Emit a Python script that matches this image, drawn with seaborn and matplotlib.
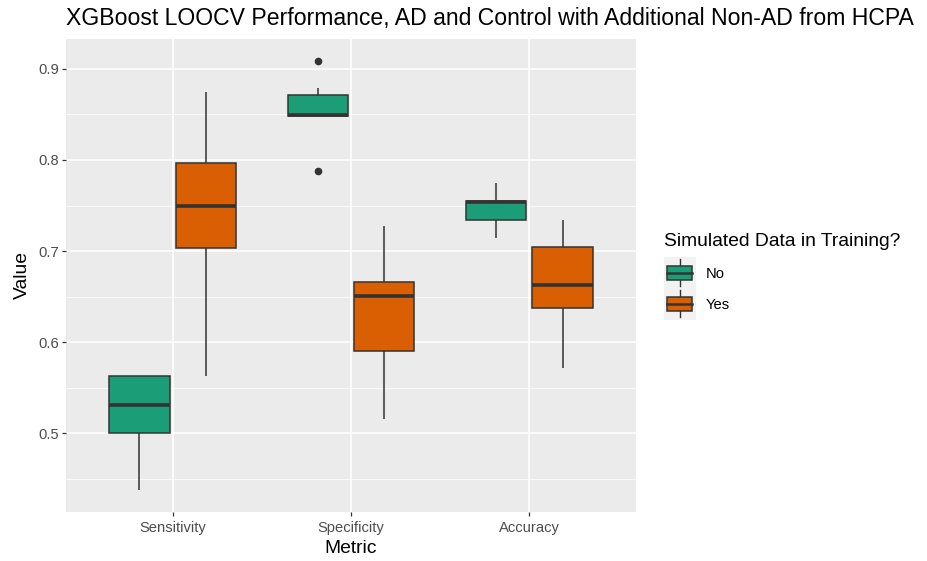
import numpy as np
import pandas as pd
import matplotlib
matplotlib.use("Agg")
import matplotlib.pyplot as plt
import seaborn as sns
from matplotlib.patches import Rectangle, Patch
from matplotlib.lines import Line2D
from matplotlib.legend_handler import HandlerBase

# ---- data ----
metrics = ["Sensitivity", "Specificity", "Accuracy"]
groups = ["No", "Yes"]
sensitivity_no = [0.4375, 0.5, 0.53125, 0.5625, 0.5625]
sensitivity_yes = [0.563, 0.703, 0.75, 0.797, 0.875]
specificity_no = [0.788, 0.848, 0.848, 0.8482, 0.849, 0.86, 0.871, 0.879, 0.909]
specificity_yes = [0.515, 0.590, 0.651, 0.666, 0.727]
accuracy_no = [0.714, 0.734, 0.754, 0.755, 0.775]
accuracy_yes = [0.571, 0.637, 0.663, 0.704, 0.734]
colors = ["#1B9E77", "#D95F02"]
yticks = [0.5, 0.6, 0.7, 0.8, 0.9]
yminor = [0.45, 0.55, 0.65, 0.75, 0.85]

series = {
    ("Sensitivity", "No"): sensitivity_no,
    ("Sensitivity", "Yes"): sensitivity_yes,
    ("Specificity", "No"): specificity_no,
    ("Specificity", "Yes"): specificity_yes,
    ("Accuracy", "No"): accuracy_no,
    ("Accuracy", "Yes"): accuracy_yes,
}
rows = []
for (m, g), vals in series.items():
    for v in vals:
        rows.append({"Metric": m, "Sim": g, "Value": v})
df = pd.DataFrame(rows)

plt.rcParams["font.family"] = ["Liberation Sans", "DejaVu Sans"]

fig = plt.figure(figsize=(9.27, 5.61), dpi=100)
ax = fig.add_axes([66 / 927, 1 - 511.5 / 561, (636 - 66) / 927, (511.5 - 39.3) / 561])
ax.set_facecolor("#EBEBEB")

# grid
for y in yminor:
    ax.axhline(y, color="white", lw=0.55, zorder=0)
for y in yticks:
    ax.axhline(y, color="white", lw=1.1, zorder=0)
for x in range(len(metrics)):
    ax.axvline(x, color="white", lw=1.1, zorder=0)

sns.boxplot(
    data=df, x="Metric", y="Value", hue="Sim",
    order=metrics, hue_order=groups, palette=colors, saturation=1,
    width=0.75, gap=0.1, linecolor="#333333", linewidth=1.1,
    fliersize=4.5, showcaps=False, legend=False, ax=ax,
    medianprops=dict(linewidth=2.6, color="#333333"),
    flierprops=dict(marker="o", markerfacecolor="#333333", markeredgecolor="#333333"),
)

ax.set_xlim(-0.6, 2.6)
ax.set_ylim(0.41393, 0.93257)
ax.set_yticks(yticks)
ax.set_yticklabels([f"{v:.1f}" for v in yticks])
for s in ax.spines.values():
    s.set_visible(False)
ax.tick_params(axis="both", colors="#333333", length=2.9, width=0.9,
               labelsize=10.6, labelcolor="#4D4D4D", pad=2.2)
ax.tick_params(axis="x", pad=4.2)
ax.set_xlabel("Metric", fontsize=13.9, color="black", labelpad=3)
ax.set_ylabel("Value", fontsize=13.9, color="black", labelpad=5)

fig.text(66 / 927, 1 - 25 / 561, "XGBoost LOOCV Performance, AD and Control with Additional Non-AD from HCPA",
         fontsize=16.6, ha="left", va="baseline", color="black")


class BoxHandler(HandlerBase):
    def create_artists(self, legend, orig_handle, xdescent, ydescent, width, height, fontsize, trans):
        x0 = -xdescent
        side = width
        cy = -ydescent + height / 2
        y0 = cy - side / 2
        bg = Rectangle((x0, y0), side, side, facecolor="#F2F2F2", edgecolor="none", transform=trans)
        cx = x0 + side / 2
        bw = side * 0.8
        by0 = y0 + side * 0.26
        bh = side * 0.46
        box = Rectangle((cx - bw / 2, by0), bw, bh, facecolor=orig_handle.get_facecolor(),
                        edgecolor="#333333", lw=1.1, transform=trans)
        med = Line2D([cx - bw / 2, cx + bw / 2], [by0 + bh / 2] * 2, color="#333333", lw=1.8, transform=trans)
        w1 = Line2D([cx, cx], [y0 + side * 0.07, by0], color="#333333", lw=1.0, transform=trans)
        w2 = Line2D([cx, cx], [by0 + bh, y0 + side * 0.93], color="#333333", lw=1.0, transform=trans)
        return [bg, w1, w2, box, med]


handles = [Patch(facecolor=c, edgecolor="#333333") for c in colors]
leg = fig.legend(handles, groups, handler_map={Patch: BoxHandler()},
                 loc="upper left", bbox_to_anchor=(664 / 927, 1 - 233 / 561),
                 frameon=False, fontsize=10.6, title="Simulated Data in Training?",
                 title_fontsize=13.9, handlelength=2.15,
                 labelspacing=1.15, handletextpad=0.7, borderpad=0, borderaxespad=0,
                 alignment="left")

fig.savefig("out.png", dpi=100)
